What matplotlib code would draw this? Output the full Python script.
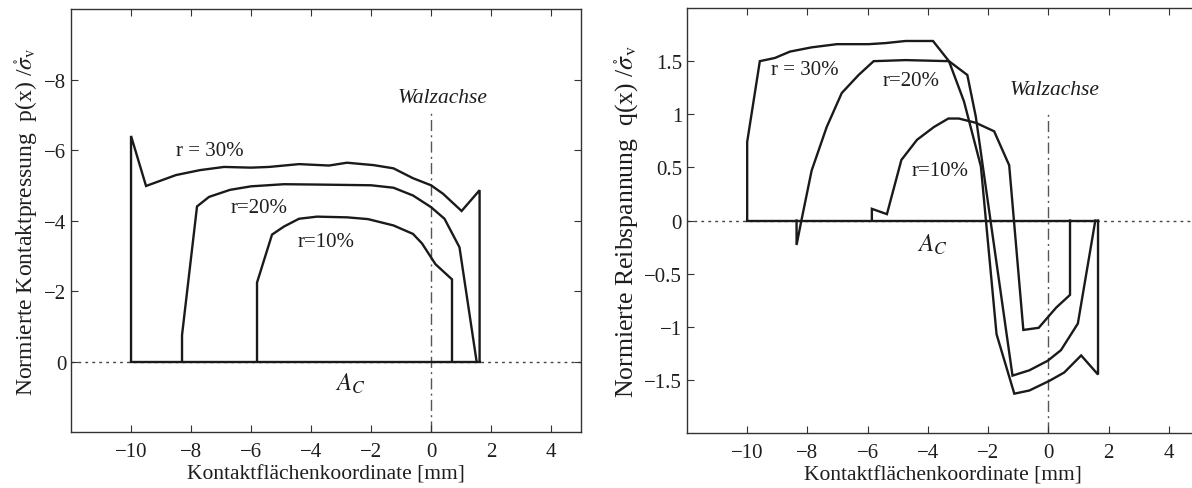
import matplotlib
matplotlib.use('Agg')
import matplotlib.pyplot as plt

plt.rcParams['font.family'] = 'serif'
plt.rcParams['font.serif'] = ['Liberation Serif', 'DejaVu Serif']
plt.rcParams['mathtext.fontset'] = 'stix'

# left panel: normed contact pressure p(x)/sigma_v
p30_x = [-10, -10, -9.5, -8.5, -7.7, -6.9, -6.0, -5.4, -4.4, -3.4, -2.8, -1.9, -1.25, -0.6, 0.0, 0.4, 1.02, 1.62, 1.62]
p30_y = [0, -6.4, -4.98, -5.29, -5.43, -5.52, -5.5, -5.52, -5.6, -5.56, -5.64, -5.57, -5.48, -5.2, -5.0, -4.76, -4.27, -4.86, 0]
p20_x = [-8.3, -8.3, -7.8, -7.4, -6.7, -6.0, -4.9, -3.8, -2.0, -1.25, -0.6, 0.0, 0.45, 0.95, 1.52]
p20_y = [0, -0.75, -4.4, -4.67, -4.87, -4.97, -5.03, -5.02, -5.0, -4.93, -4.71, -4.38, -4.05, -3.24, 0]
p10_x = [-5.8, -5.8, -5.3, -4.9, -4.4, -3.8, -2.8, -2.1, -1.25, -0.6, -0.3, 0.15, 0.7, 0.7]
p10_y = [0, -2.24, -3.6, -3.83, -4.05, -4.11, -4.09, -4.04, -3.86, -3.62, -3.35, -2.76, -2.33, 0]

# right panel: normed friction stress q(x)/sigma_v
q30_x = [-10, -10, -9.58, -9.08, -8.58, -7.86, -7.02, -5.97, -5.41, -4.74, -3.83, -3.3, -2.8, -2.24, -1.72,
         -1.13, -0.63, 0.03, 0.53, 1.09, 1.65, 1.65]
q30_y = [0, 0.74, 1.5, 1.53, 1.59, 1.63, 1.66, 1.66, 1.67, 1.69, 1.69, 1.5, 1.12, 0.51, -1.07,
         -1.63, -1.6, -1.51, -1.43, -1.27, -1.45, 0]
q20_x = [-8.36, -8.36, -8.2, -7.86, -7.36, -6.86, -6.3, -5.8, -4.74, -3.3, -2.69, -2.41, -1.19, -0.63, -0.02, 0.42, 0.98, 1.56]
q20_y = [0, -0.23, 0, 0.47, 0.88, 1.2, 1.37, 1.5, 1.51, 1.5, 1.37, 0.98, -1.46, -1.41, -1.32, -1.22, -0.97, 0]
q10_x = [-5.86, -5.86, -5.36, -4.88, -4.36, -3.8, -3.32, -2.97, -2.41, -1.8, -1.3, -0.83, -0.32, 0.26, 0.72, 0.72]
q10_y = [0, 0.11, 0.06, 0.57, 0.76, 0.88, 0.96, 0.96, 0.92, 0.84, 0.52, -1.03, -1.01, -0.82, -0.7, 0]

x_ticks = [-10, -8, -6, -4, -2, 0, 2, 4]
p_ticks = [-8, -6, -4, -2, 0]
q_ticks = [-1.5, -1, -0.5, 0, 0.5, 1, 1.5]

sigma = r'$\mathring{\sigma}_{\rm v}$'
xlabel = 'Kontaktflächenkoordinate [mm]'
lc = '#1a1a1a'
tc = '#1e1e1e'
lw = 1.7


def fmt(t):
    return '%g' % t if t >= 0 else '\u2212%g' % -t


def style(ax):
    ax.tick_params(direction='in', top=True, right=True, length=5, width=0.8,
                   labelsize=15, colors='#333333', labelcolor=tc)
    ax.tick_params(axis='x', pad=7)
    for s in ax.spines.values():
        s.set_linewidth(1.0)
        s.set_color('#333333')
    ax.set_xlim(-12, 5)
    ax.set_xticks(x_ticks)
    ax.set_xticklabels([fmt(t) for t in x_ticks])
    ax.set_xlabel(xlabel, fontsize=15.5, color=tc, labelpad=3)


fig = plt.figure(figsize=(11.92, 4.89), dpi=100)
ax1 = fig.add_axes([0.0596, 0.1145, 0.4278, 0.865])
ax2 = fig.add_axes([0.5763, 0.1125, 0.4295, 0.869])

# left
ax1.axhline(0, color='#444444', lw=1.0, ls=(0, (2, 3)), zorder=1)
ax1.plot([-10, 1.62], [0, 0], color=lc, lw=lw, zorder=2)
ax1.plot([0, 0], [2, -7.08], color='#555555', lw=1.0, ls=(0, (8, 3, 1.5, 3)), zorder=1)
for xs, ys in [(p30_x, p30_y), (p20_x, p20_y), (p10_x, p10_y)]:
    ax1.plot(xs, ys, color=lc, lw=lw, solid_joinstyle='miter', zorder=3)
ax1.set_ylim(2, -10)
ax1.set_yticks(p_ticks)
ax1.set_yticklabels([fmt(t) for t in p_ticks])
style(ax1)
ax1.set_ylabel('Normierte Kontaktpressung  p(x) /' + sigma, fontsize=17, color=tc, labelpad=3)
ax1.text(0.4, -7.5, 'Walzachse', style='italic', fontsize=15.5, ha='center', va='center', color=tc)
ax1.text(-7.38, -6.0, 'r = 30%', fontsize=15, ha='center', va='center', color=tc)
ax1.text(-5.73, -4.37, 'r=20%', fontsize=15, ha='center', va='center', color=tc)
ax1.text(-3.5, -3.41, 'r=10%', fontsize=15, ha='center', va='center', color=tc)
ax1.text(-2.7, 0.6, r'$A_C$', fontsize=18, ha='center', va='center', color=tc)

# right
ax2.axhline(0, color='#444444', lw=1.0, ls=(0, (2, 3)), zorder=1)
ax2.plot([-10, 1.65], [0, 0], color=lc, lw=lw, zorder=2)
ax2.plot([0, 0], [-2, 1.03], color='#555555', lw=1.0, ls=(0, (8, 3, 1.5, 3)), zorder=1)
for xs, ys in [(q30_x, q30_y), (q20_x, q20_y), (q10_x, q10_y)]:
    ax2.plot(xs, ys, color=lc, lw=lw, solid_joinstyle='miter', zorder=3)
ax2.set_ylim(-2, 2)
ax2.set_yticks(q_ticks)
ax2.set_yticklabels([fmt(t) for t in q_ticks])
style(ax2)
ax2.set_ylabel('Normierte Reibspannung  q(x) /' + sigma, fontsize=18.5, color=tc, labelpad=3)
ax2.text(0.2, 1.23, 'Walzachse', style='italic', fontsize=15.5, ha='center', va='center', color=tc)
ax2.text(-8.1, 1.42, 'r = 30%', fontsize=15, ha='center', va='center', color=tc)
ax2.text(-4.55, 1.32, 'r=20%', fontsize=15, ha='center', va='center', color=tc)
ax2.text(-3.6, 0.47, 'r=10%', fontsize=15, ha='center', va='center', color=tc)
ax2.text(-3.85, -0.22, r'$A_C$', fontsize=18, ha='center', va='center', color=tc)

fig.savefig('out.png', dpi=100)
